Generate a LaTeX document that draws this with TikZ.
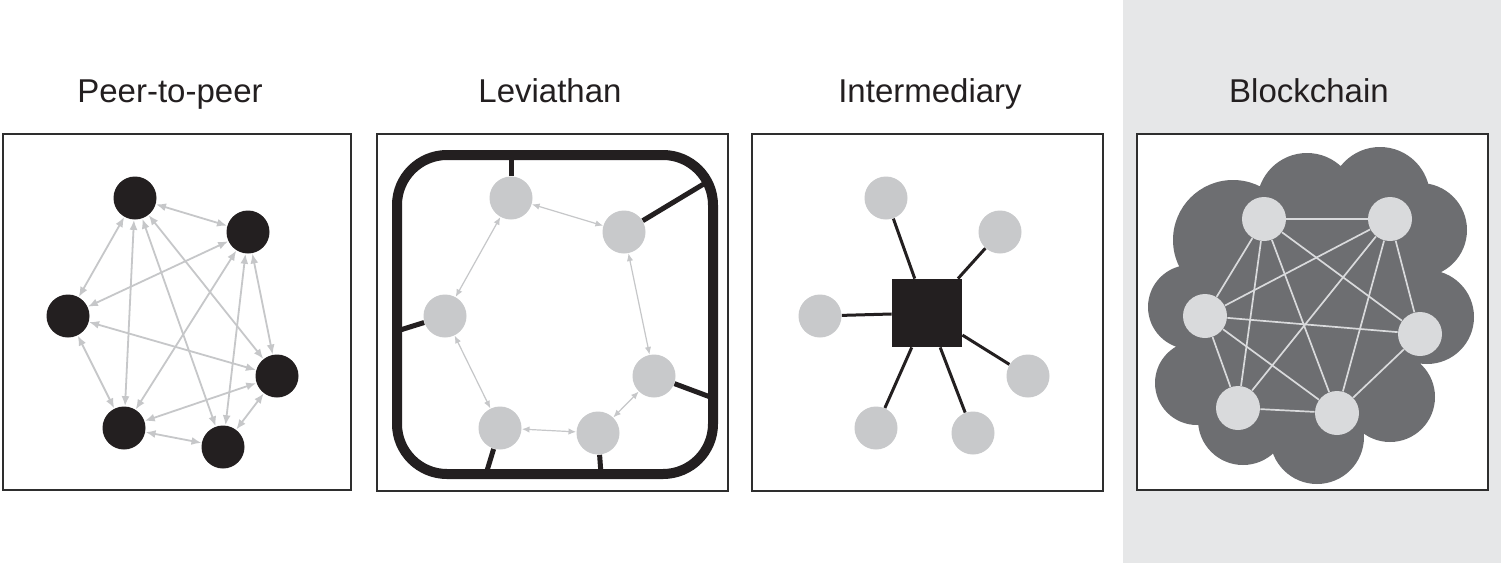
\documentclass[tikz,border=0pt]{standalone}
\usepackage{fontspec}
\setmainfont{Liberation Sans}
\usetikzlibrary{positioning,arrows.meta}
\definecolor{inkblack}{HTML}{231F20}
\definecolor{framegray}{HTML}{2E2E2E}
\definecolor{nodegray}{HTML}{C8C9CB}
\definecolor{linkgray}{HTML}{C6C7C9}
\definecolor{cloudgray}{HTML}{6D6E71}
\definecolor{chainlight}{HTML}{D9DADC}
\definecolor{panelbg}{HTML}{E6E7E8}

\begin{document}
\begin{tikzpicture}[x=0.5pt, y=-0.5pt,
    title/.style={anchor=base, font=\fontsize{16.5}{20}\selectfont, text=inkblack},
    panel/.style={draw=framegray, line width=1.2pt, fill=white},
    peer/.style={circle, fill=inkblack, minimum size=21.5pt, inner sep=0pt},
    member/.style={circle, fill=nodegray, minimum size=21.5pt, inner sep=0pt},
    block/.style={circle, fill=chainlight, minimum size=22pt, inner sep=0pt},
    hub/.style={rectangle, fill=inkblack, minimum width=35pt, minimum height=34pt, inner sep=0pt},
    p2plink/.style={linkgray, line width=0.9pt, {Latex[length=5pt,width=4pt]}-{Latex[length=5pt,width=4pt]}},
    levlink/.style={linkgray, line width=0.6pt, {Latex[length=3.8pt,width=3.2pt]}-{Latex[length=3.8pt,width=3.2pt]}},
    spoke/.style={inkblack, line width=2.5pt},
    star/.style={inkblack, line width=1.5pt},
    chainlink/.style={chainlight, line width=0.85pt}]
    \useasboundingbox (0,0) rectangle (1501,563);

    % Background
    \fill [white] (0,0) rectangle (1501,563);
    \fill [panelbg] (1123,0) rectangle (1501,563);

    % Panels
    \draw [panel] (3,134) rectangle (351,490);
    \draw [panel] (377,134) rectangle (728,491);
    \draw [panel] (752,134) rectangle (1103,491);
    \draw [panel] (1137,134) rectangle (1488,490);

    % Titles
    \node [title] (t-peer) at (170,102) {Peer-to-peer};
    \node [title] (t-lev) at (550,102) {Leviathan};
    \node [title] (t-int) at (930,102) {Intermediary};
    \node [title] (t-chain) at (1309,102) {Blockchain};

    % Peer-to-peer
    \node [peer] (a1) at (135,198) {};
    \node [peer] (a2) at (248,232) {};
    \node [peer] (a3) at (68,316) {};
    \node [peer] (a4) at (277,376) {};
    \node [peer] (a5) at (124,428) {};
    \node [peer] (a6) at (223,447) {};
    \foreach \u/\v in {a1/a2, a1/a3, a1/a4, a1/a5, a1/a6, a2/a3, a2/a4, a2/a5,
                       a2/a6, a3/a4, a3/a5, a5/a4, a5/a6, a6/a4}
        \draw [p2plink] (\u) -- (\v);

    % Leviathan
    \node [member] (b1) at (511,198) {};
    \node [member] (b2) at (624,232) {};
    \node [member] (b3) at (445,316) {};
    \node [member] (b4) at (654,376) {};
    \node [member] (b5) at (500,428) {};
    \node [member] (b6) at (598,433) {};
    \coordinate (e1) at (511,155);
    \coordinate (e2) at (707,182);
    \coordinate (e3) at (397,331);
    \coordinate (e4) at (713,398);
    \coordinate (e5) at (486,474);
    \coordinate (e6) at (601,474);
    \foreach \i in {1,...,6}
        \draw [spoke] (b\i) -- (e\i);
    \draw [inkblack, line width=5pt, rounded corners=25pt] (397,155) rectangle (713,474);
    \foreach \u/\v in {b1/b2, b1/b3, b3/b5, b5/b6, b6/b4, b4/b2}
        \draw [levlink] (\u) -- (\v);

    % Intermediary
    \node [hub] (hub) at (927,313) {};
    \node [member] (c1) at (886,198) {};
    \node [member] (c2) at (1000,232) {};
    \node [member] (c3) at (820,316) {};
    \node [member] (c4) at (1028,376) {};
    \node [member] (c5) at (876,428) {};
    \node [member] (c6) at (973,433) {};
    \foreach \i in {1,...,6}
        \draw [star] (hub) -- (c\i);

    % Blockchain cloud
    \fill [cloudgray] (1190,307) circle [radius=42] (1197,383) circle [radius=42]
        (1243,420) circle [radius=45] (1317,437) circle [radius=47]
        (1390,397) circle [radius=45] (1427,317) circle [radius=47]
        (1420,230) circle [radius=47] (1380,197) circle [radius=50]
        (1307,203) circle [radius=50] (1233,240) circle [radius=60]
        (1313,317) circle [radius=115];
    \node [block] (d1) at (1264,219) {};
    \node [block] (d2) at (1390,219) {};
    \node [block] (d3) at (1205,316) {};
    \node [block] (d4) at (1420,334) {};
    \node [block] (d5) at (1238,408) {};
    \node [block] (d6) at (1337,413) {};
    \foreach \u/\v in {d1/d2, d1/d3, d1/d4, d1/d5, d1/d6, d2/d3, d2/d4, d2/d5,
                       d2/d6, d3/d4, d3/d5, d3/d6, d5/d6, d6/d4}
        \draw [chainlink] (\u) -- (\v);
\end{tikzpicture}
\end{document}
